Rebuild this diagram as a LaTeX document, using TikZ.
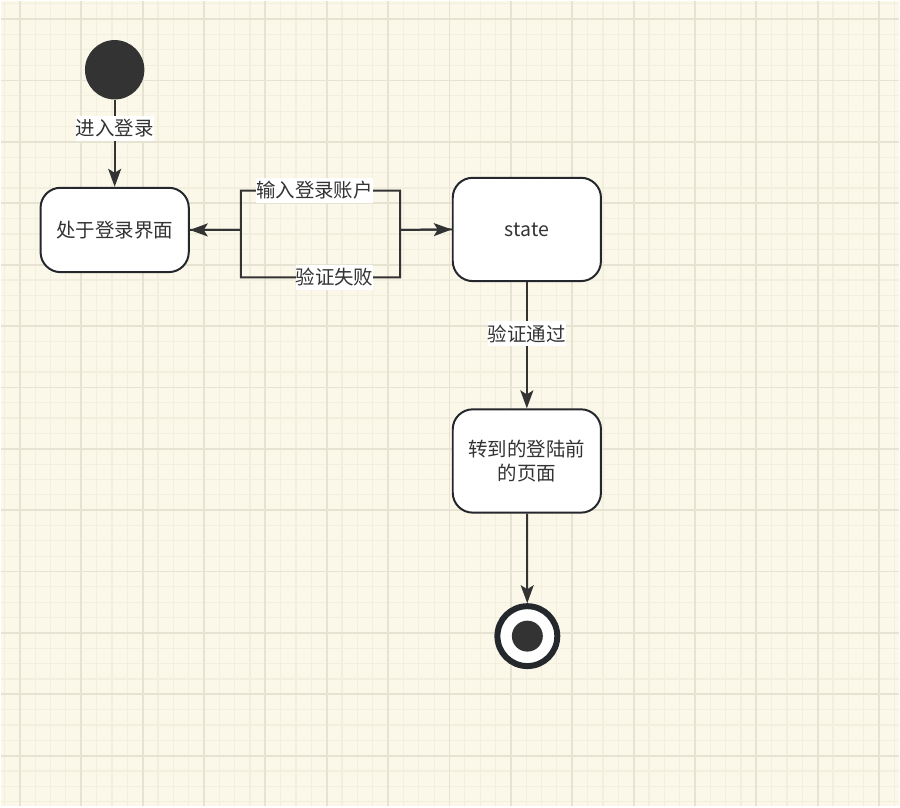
\documentclass[tikz,border=0pt]{standalone}
\usepackage{fontspec}
\setmainfont{Noto Sans CJK SC}
\usetikzlibrary{arrows.meta}
\definecolor{paper}{RGB}{251,248,234}
\definecolor{gridminor}{RGB}{242,239,223}
\definecolor{gridmajor}{RGB}{230,227,211}
\definecolor{ink}{RGB}{51,51,51}
\definecolor{rim}{RGB}{36,40,45}
\begin{document}
\begin{tikzpicture}[x=1pt, y=-1pt,
  statebox/.style={draw=rim, line width=2pt, fill=white, rounded corners=20pt,
    minimum width=148.5pt, inner sep=0pt, text=ink, align=center,
    font=\fontsize{19.5}{24}\selectfont},
  edgelabel/.style={fill=white, inner sep=0pt, minimum height=25pt, text=ink,
    font=\fontsize{19.5}{24}\selectfont},
  flow/.style={draw=ink, line width=2pt, -{Stealth[length=18pt, width=13pt, inset=4pt]}}]
  % paper and grid
  \fill[paper] (0,0) rectangle (900,807);
  \foreach \i in {0,...,58}
    \draw[gridminor, line width=1.2pt] ({3.6+15.375*\i},0) -- ++(0,807);
  \foreach \i in {0,...,52}
    \draw[gridminor, line width=1.2pt] (0,{2.9+15.375*\i}) -- ++(900,0);
  \foreach \i in {0,...,14}
    \draw[gridmajor, line width=1.8pt] ({19+61.5*\i},0) -- ++(0,807);
  \foreach \i in {0,...,12}
    \draw[gridmajor, line width=1.8pt] (0,{18.3+61.5*\i}) -- ++(900,0);
  \useasboundingbox (0,0) rectangle (900,807);

  % states
  \node[circle, fill=ink, minimum size=59.5pt, inner sep=0pt] (start) at (114,69) {};
  \node[statebox, minimum height=84.5pt] (login) at (114,229.5) {处于登录界面};
  \node[statebox, minimum height=103.5pt] (check) at (527,229) {state};
  \node[statebox, minimum height=103.5pt] (back) at (527,461) {转到的登陆前\\的页面};
  \node[circle, draw=rim, line width=6pt, fill=white, minimum size=60pt, inner sep=0pt] (final) at (527.5,636.5) {};
  \node[circle, fill=ink, minimum size=31pt, inner sep=0pt] (finaldot) at (final.center) {};

  % bends of the loop
  \coordinate (bendL) at (240.5,229.5);
  \coordinate (bendR) at (400,229.5);
  \coordinate (topL) at (240.5,190);
  \coordinate (topR) at (400,190);
  \coordinate (botL) at (240.5,277);
  \coordinate (botR) at (400,277);

  % transitions
  \draw[flow] (start) -- node[edgelabel, pos=0.33] {进入登录} (login);
  \draw[flow] (login.east) -- (bendL) -- (topL)
    -- node[edgelabel, xshift=-6pt] {输入登录账户} (topR) -- (bendR) -- (check.west);
  \draw[flow] (check.west) -- (bendR) -- (botR)
    -- node[edgelabel, xshift=14pt] {验证失败} (botL) -- (bendL) -- (login.east);
  \draw[flow] (check) -- node[edgelabel, pos=0.41] {验证通过} (back);
  \draw[flow] (back) -- (final);
\end{tikzpicture}
\end{document}
